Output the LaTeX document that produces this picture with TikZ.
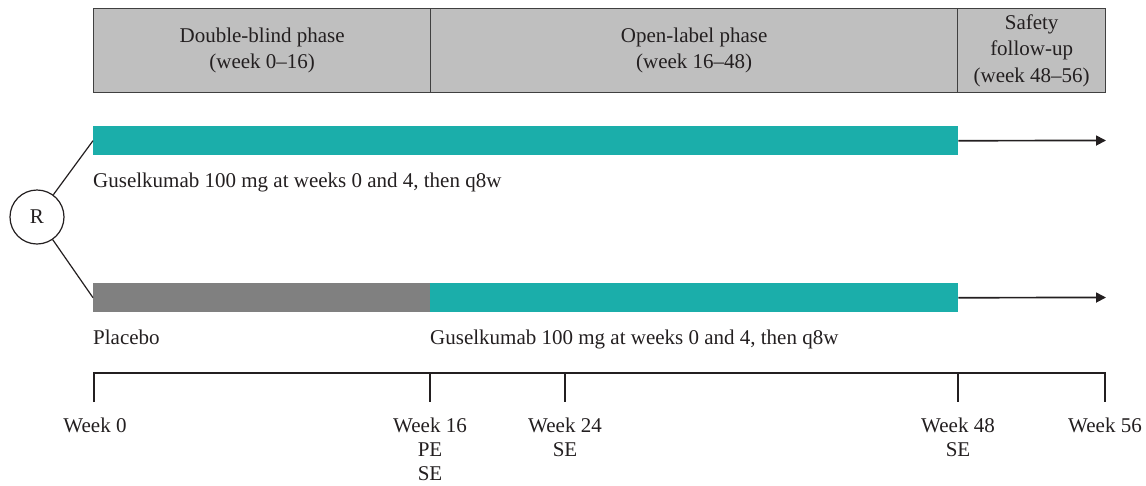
\documentclass[tikz,border=0pt]{standalone}
\usepackage{fontspec}
\setmainfont{Liberation Serif}
\usetikzlibrary{arrows.meta}
\definecolor{tealbar}{RGB}{27,174,170}
\definecolor{hdr}{RGB}{191,191,191}
\definecolor{pbo}{RGB}{128,128,128}
\definecolor{ink}{RGB}{35,31,32}
\definecolor{edge}{RGB}{64,64,64}
\begin{document}
\begin{tikzpicture}[x=1pt,y=-1pt,
  font=\fontsize{21}{26.5}\selectfont, text=ink,
  cell/.style={draw=edge, line width=1.3pt, fill=hdr, minimum height=84pt,
    inner sep=0pt, anchor=north west, align=center},
  bar/.style={minimum height=29pt, inner sep=0pt, anchor=north west, draw=none},
  lbl/.style={anchor=base west, inner sep=0pt},
  wk/.style={anchor=base, inner sep=0pt},
  conn/.style={draw=ink, line width=1.2pt},
  arr/.style={draw=ink, line width=1.7pt, -{Triangle[length=10pt,width=10pt]}}]
\useasboundingbox (0,0) rectangle (1146,485);
% header
\node[cell, minimum width=337pt] (h1) at (93,8) {Double-blind phase\\(week 0--16)};
\node[cell, minimum width=527pt] (h2) at (430,8) {Open-label phase\\(week 16--48)};
\node[cell, minimum width=148pt] (h3) at (957,8) {Safety\\follow-up\\(week 48--56)};
% bars
\node[bar, fill=tealbar, minimum width=865pt] (b1) at (93,126) {};
\node[bar, fill=pbo, minimum width=337pt] (b2a) at (93,283) {};
\node[bar, fill=tealbar, minimum width=528pt] (b2b) at (430,283) {};
\coordinate (e1) at (1106,140.5);
\coordinate (e2) at (1106,297.5);
\draw[arr] (b1.east) -- (e1);
\draw[arr] (b2b.east) -- (e2);
% randomisation
\node[draw=ink, line width=1.2pt, circle, minimum size=54pt, inner sep=0pt] (R) at (37,217) {R};
\draw[conn] (R) -- (b1.west);
\draw[conn] (R) -- (b2a.west);
% labels
\node[lbl] (l1) at (93,187) {Guselkumab 100 mg at weeks 0 and 4, then q8w};
\node[lbl] (l2) at (93,344) {Placebo};
\node[lbl] (l3) at (430,344) {Guselkumab 100 mg at weeks 0 and 4, then q8w};
% timeline
\coordinate (t0) at (94,373);   \coordinate (t0b) at (94,402);
\coordinate (t16) at (430,373); \coordinate (t16b) at (430,402);
\coordinate (t24) at (565,373); \coordinate (t24b) at (565,402);
\coordinate (t48) at (958,373); \coordinate (t48b) at (958,402);
\coordinate (t56) at (1105,373);\coordinate (t56b) at (1105,402);
\draw[conn] (t0b) -- (t0) -- (t56) -- (t56b);
\draw[conn] (t16) -- (t16b);
\draw[conn] (t24) -- (t24b);
\draw[conn] (t48) -- (t48b);
\node[wk] (w0) at (95,432) {Week 0};
\node[wk] (w16) at (430,432) {Week 16};
\node[wk] (w16p) at (430,456.5) {PE};
\node[wk] (w16s) at (430,480) {SE};
\node[wk] (w24) at (565,432) {Week 24};
\node[wk] (w24s) at (565,456.5) {SE};
\node[wk] (w48) at (958,432) {Week 48};
\node[wk] (w48s) at (958,456.5) {SE};
\node[wk] (w56) at (1105,432) {Week 56};
\end{tikzpicture}
\end{document}
